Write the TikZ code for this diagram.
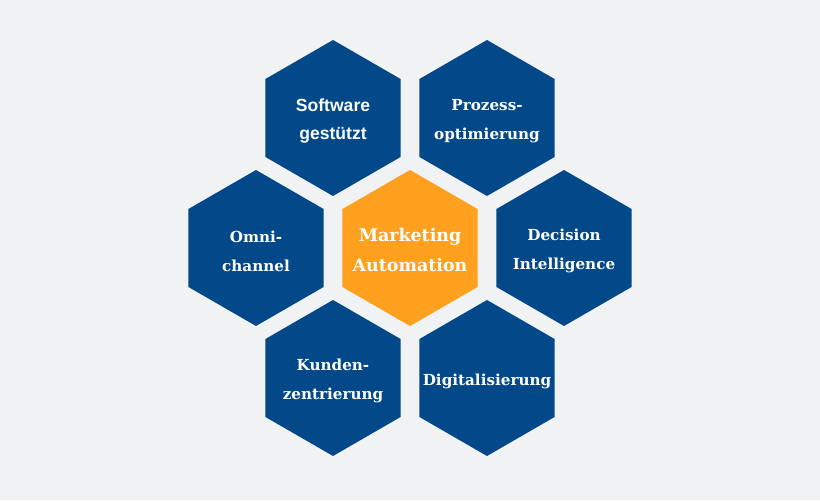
\documentclass[tikz,border=0pt]{standalone}
\usepackage{fontspec}
\setmainfont{DejaVu Serif}
\newfontfamily\hexsans{Liberation Sans}
\usetikzlibrary{shapes.geometric}
\definecolor{hexblue}  {HTML}{03498A}
\definecolor{hexorange}{HTML}{FFA01F}
\definecolor{canvas}   {HTML}{F1F2F4}

\begin{document}
\begin{tikzpicture}[x=1cm,y=1cm,
    hexcell/.style={regular polygon, regular polygon sides=6, shape border rotate=30,
                    minimum size=3.9cm, inner sep=0pt, fill=hexblue},
    hexcore/.style={hexcell, fill=hexorange},
    hextext/.style={text=white, align=center, inner sep=0pt, yshift=-0.08cm,
                    font=\bfseries\fontsize{10.8}{20.8}\selectfont},
    hexsanstext/.style={hextext, font=\hexsans\bfseries\fontsize{12.5}{19.5}\selectfont},
    hexcoretext/.style={hextext, yshift=0.03cm, font=\bfseries\fontsize{12.4}{22}\selectfont}]
  \fill[canvas] (0,0) rectangle (20.5,12.5);
  % centre cell
  \node[hexcore] (core) at (10.25,6.3) {};
  \node[hexcoretext] (coretext) at (core.center) {Marketing\\Automation};
  % ring of six cells
  \node[hexcell] (software) at (8.325,9.55) {};
  \node[hexsanstext] (softwaretext) at (software.center) {Software\\gestützt};
  \foreach \nm/\pos/\lab in {prozess/{12.175,9.55}/{Prozess-\\optimierung},
                             omni/{6.4,6.3}/{Omni-\\channel},
                             decision/{14.1,6.3}/{Decision\\Intelligence},
                             kunden/{8.325,3.05}/{Kunden-\\zentrierung},
                             digital/{12.175,3.05}/{Digitalisierung}}{
    \node[hexcell] (\nm) at (\pos) {};
    \node[hextext] (\nm text) at (\nm.center) {\lab};
  }
\end{tikzpicture}
\end{document}
